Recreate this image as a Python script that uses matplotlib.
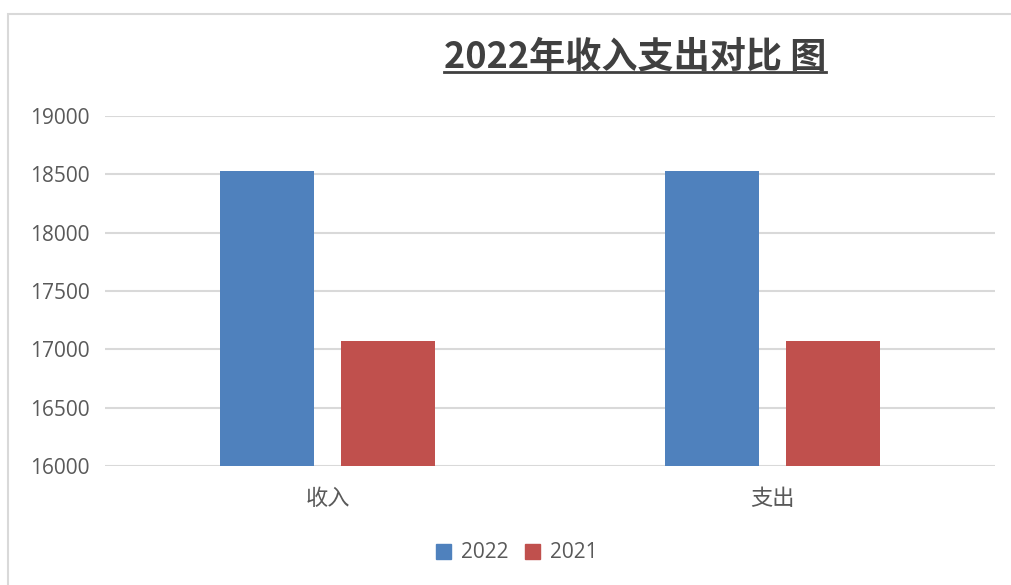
import matplotlib.pyplot as plt
from matplotlib.patches import Rectangle, Patch
from matplotlib.lines import Line2D
import numpy as np

plt.rcParams['font.family'] = ['Open Sans', 'Noto Sans CJK SC', 'DejaVu Sans']

categories = ['收入', '支出']
series_names = ['2022', '2021']
values_2022 = [18530, 18530]
values_2021 = [17070, 17070]
colors = ['#4F81BD', '#C0504D']
title = '2022年收入支出对比 图'

fig = plt.figure(figsize=(10.12, 5.85), dpi=100)
ax = fig.add_axes([105 / 1012, 1 - 466 / 585, 890 / 1012, 350 / 585])

# outer chart frame (cut by the image on the right and bottom)
fig.patches.append(Rectangle((8 / 1012, -0.1), 1.2, 1 - 14 / 585 + 0.1,
                             transform=fig.transFigure, fill=False,
                             edgecolor='#d9d9d9', linewidth=1.5))

x = np.arange(len(categories))
w = 0.211
off = 0.135
ax.bar(x - off, values_2022, w, color=colors[0], label=series_names[0], zorder=3)
ax.bar(x + off, values_2021, w, color=colors[1], label=series_names[1], zorder=3)

ax.set_xlim(-0.5, 1.5)
ax.set_ylim(16000, 19000)
ax.set_yticks(np.arange(16000, 19001, 500))
ax.set_xticks(x)
ax.set_xticklabels(categories, family=['Noto Sans CJK SC'], fontsize=16, color='#595959')
ax.tick_params(axis='y', length=0, pad=11, labelsize=15, labelcolor='#595959')
ax.tick_params(axis='x', length=0, pad=15)
ax.grid(axis='y', color='#d9d9d9', linewidth=1.5, zorder=0)
for s in ax.spines.values():
    s.set_visible(False)

t = fig.text(635 / 1012, 1 - 57 / 585, title, ha='center', va='center',
             fontsize=26, fontweight='bold', color='#404040',
             family=['Noto Sans CJK SC', 'DejaVu Sans'])
fig.canvas.draw()
bb = t.get_window_extent().transformed(fig.transFigure.inverted())
fig.add_artist(Line2D([bb.x0, bb.x1], [1 - 72 / 585] * 2, transform=fig.transFigure,
                      color='#404040', linewidth=2))

handles = [Patch(color=c, label=n) for c, n in zip(colors, series_names)]
fig.legend(handles=handles, loc='center', bbox_to_anchor=(517 / 1012, 1 - 553 / 585),
           ncol=2, frameon=False, fontsize=15, labelcolor='#595959',
           handlelength=0.7, handleheight=0.7, handletextpad=0.5, columnspacing=0.8)

fig.savefig('out.png', dpi=100)
